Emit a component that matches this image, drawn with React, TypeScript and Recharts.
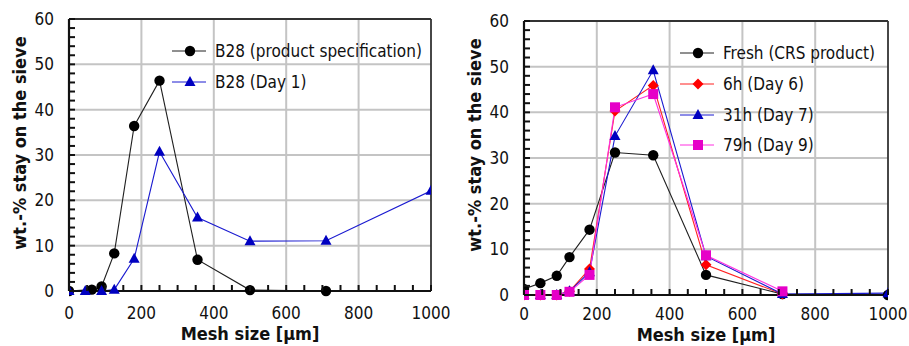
import React from 'react'
import { LineChart, Line, XAxis, YAxis, CartesianGrid, ReferenceLine, Legend } from 'recharts'

const FONT = '"DejaVu Sans Condensed", "DejaVu Sans", sans-serif'

// axis ticks: labelled majors, inward minor marks
const xTicks = [0, 200, 400, 600, 800, 1000]
const yTicks = [0, 10, 20, 30, 40, 50, 60]
const xMinorTicks = Array.from({ length: 21 }, (_, i) => i * 50)
const yMinorTicks = Array.from({ length: 31 }, (_, i) => i * 2)

// left panel: B28
const specMesh = [0, 63, 90, 125, 180, 250, 355, 500, 710]
const specValues = [0, 0.3, 1.0, 8.3, 36.4, 46.4, 6.9, 0.2, 0]
const day1Mesh = [0, 45, 90, 125, 180, 250, 355, 500, 710, 1000]
const day1Values = [0, 0, 0, 0.3, 7.1, 30.7, 16.2, 11.0, 11.1, 22.1]

// right panel: CRS product
const crsMesh = [0, 45, 90, 125, 180, 250, 355, 500, 710, 1000]
const freshValues = [1.3, 2.6, 4.2, 8.3, 14.3, 31.2, 30.6, 4.4, 0.2, 0]
const h6Values = [0, 0, 0, 0.8, 5.7, 40.3, 45.9, 6.6, 0.2]
const h31Values = [0, 0, 0, 0.8, 5.0, 34.8, 49.2, 8.5, 0.2, 0.4]
const h79Values = [0, 0, 0, 0.7, 4.4, 41.1, 44.0, 8.7, 0.8]

type Shape = 'circle' | 'triangle' | 'diamond' | 'square'

interface Series {
  name: string
  mesh: number[]
  values: number[]
  color: string
  line: string
  shape: Shape
}

const toPoints = (mesh: number[], values: number[]) =>
  values.map((v, i) => ({ x: mesh[i], y: v }))

const leftSeries: Series[] = [
  { name: 'B28 (product specification)', mesh: specMesh, values: specValues, color: '#000000', line: '#202020', shape: 'circle' },
  { name: 'B28 (Day 1)', mesh: day1Mesh, values: day1Values, color: '#0000c0', line: '#1a1ad0', shape: 'triangle' },
]

const rightSeries: Series[] = [
  { name: 'Fresh (CRS product)', mesh: crsMesh, values: freshValues, color: '#000000', line: '#202020', shape: 'circle' },
  { name: '6h (Day 6)', mesh: crsMesh, values: h6Values, color: '#ff0000', line: '#ff2020', shape: 'diamond' },
  { name: '31h (Day 7)', mesh: crsMesh, values: h31Values, color: '#0000c0', line: '#1a1ad0', shape: 'triangle' },
  { name: '79h (Day 9)', mesh: crsMesh, values: h79Values, color: '#e600c8', line: '#ff30e0', shape: 'square' },
]

function Marker({ cx, cy, shape, color }: { cx: number; cy: number; shape: Shape; color: string }) {
  if (shape === 'circle') return <circle cx={cx} cy={cy} r={5.2} fill={color} />
  if (shape === 'triangle')
    return <polygon points={`${cx},${cy - 6} ${cx + 5.5},${cy + 4} ${cx - 5.5},${cy + 4}`} fill={color} />
  if (shape === 'diamond')
    return <polygon points={`${cx},${cy - 5.5} ${cx + 5.5},${cy} ${cx},${cy + 5.5} ${cx - 5.5},${cy}`} fill={color} />
  return <rect x={cx - 5} y={cy - 5} width={10} height={10} fill={color} />
}

function LegendBox({ series }: { series: Series[] }) {
  return (
    <div style={{ fontFamily: FONT, fontSize: 17, color: '#111' }}>
      {series.map(s => (
        <div key={s.name} style={{ display: 'flex', alignItems: 'center', height: 30.7 }}>
          <svg width={38} height={14} style={{ marginRight: 5 }}>
            <line x1={0} y1={7} x2={34} y2={7} stroke={s.line} strokeWidth={1} />
            <Marker cx={18} cy={7} shape={s.shape} color={s.color} />
          </svg>
          <span style={{ whiteSpace: 'nowrap' }}>{s.name}</span>
        </div>
      ))}
    </div>
  )
}

const labelStyle = { fontFamily: FONT, fontSize: 17, fill: '#111' }

function XTick({ x, y, payload, gap }: any) {
  const v = payload.value
  return (
    <g>
      <line x1={x} y1={y} x2={x} y2={y - 6} stroke="#111" strokeWidth={2} />
      {xTicks.includes(v) && (
        <text x={x} y={y + gap} textAnchor="middle" dominantBaseline="central" style={labelStyle}>
          {v}
        </text>
      )}
    </g>
  )
}

function YTick({ x, y, payload }: any) {
  const v = payload.value
  return (
    <g>
      <line x1={x} y1={y} x2={x + 6} y2={y} stroke="#111" strokeWidth={2} />
      {yTicks.includes(v) && (
        <text x={x - 15} y={y} textAnchor="end" dominantBaseline="central" style={labelStyle}>
          {v}
        </text>
      )}
    </g>
  )
}

interface PanelProps {
  series: Series[]
  width: number
  margin: { top: number; right: number; left: number; bottom: number }
  xAxisHeight: number
  tickGap: number
  titleBaseline: number
  legendPos: { left: number; top: number }
  titleShift: number
}

function Panel({ series, width, margin, xAxisHeight, tickGap, titleBaseline, legendPos, titleShift }: PanelProps) {
  return (
    <LineChart width={width} height={346} margin={margin}>
      <CartesianGrid
        stroke="#c4c4c4"
        strokeWidth={2}
        verticalValues={xTicks.slice(1, -1)}
        horizontalValues={yTicks.slice(1, -1)}
      />
      <ReferenceLine y={60} stroke="#333" strokeWidth={1.8} />
      <ReferenceLine x={1000} stroke="#333" strokeWidth={1.8} />
      <XAxis
        type="number"
        dataKey="x"
        domain={[0, 1000]}
        ticks={xMinorTicks}
        interval={0}
        allowDataOverflow
        height={xAxisHeight}
        tick={(p: any) => <XTick {...p} gap={tickGap} />}
        tickLine={false}
        tickSize={0}
        tickMargin={0}
        axisLine={{ stroke: '#111', strokeWidth: 2.2 }}
        label={{
          content: ({ viewBox }: any) => (
            <text
              x={viewBox.x + viewBox.width / 2}
              y={titleBaseline}
              textAnchor="middle"
              style={{ fontFamily: FONT, fontSize: 18, fontWeight: 'bold', fill: '#111' }}
            >
              Mesh size [µm]
            </text>
          ),
        }}
      />
      <YAxis
        type="number"
        domain={[0, 60]}
        ticks={yMinorTicks}
        interval={0}
        width={69}
        tick={(p: any) => <YTick {...p} />}
        tickLine={false}
        tickSize={0}
        tickMargin={0}
        axisLine={{ stroke: '#111', strokeWidth: 2.2 }}
        label={{
          content: ({ viewBox }: any) => {
            const cx = 19
            const cy = viewBox.y + viewBox.height / 2 - titleShift
            return (
              <text
                x={cx}
                y={cy}
                textAnchor="middle"
                dominantBaseline="central"
                transform={`rotate(-90 ${cx} ${cy})`}
                style={{ fontFamily: FONT, fontSize: 18, fontWeight: 'bold', fill: '#111' }}
              >
                wt.-% stay on the sieve
              </text>
            )
          },
        }}
      />
      <Legend
        layout="vertical"
        align="center"
        verticalAlign="middle"
        wrapperStyle={{ left: legendPos.left, top: legendPos.top, width: 'auto' }}
        content={() => <LegendBox series={series} />}
      />
      {series.map(s => (
        <Line
          key={s.name}
          data={toPoints(s.mesh, s.values)}
          dataKey="y"
          name={s.name}
          stroke={s.line}
          strokeWidth={1.1}
          isAnimationActive={false}
          dot={(p: any) => (
            <Marker key={`${s.name}-${p.index}`} cx={p.cx} cy={p.cy} shape={s.shape} color={s.color} />
          )}
          activeDot={false}
        />
      ))}
    </LineChart>
  )
}

export default function App() {
  return (
    <div style={{ position: 'absolute', left: 0, top: 0, width: 909, height: 346, background: '#fff' }}>
      <div style={{ position: 'absolute', left: 0, top: 0 }}>
        <Panel
          series={leftSeries}
          width={450}
          margin={{ top: 19, right: 19, left: 0, bottom: 0 }}
          xAxisHeight={55}
          tickGap={22}
          titleBaseline={340}
          legendPos={{ left: 172, top: 36 }}
          titleShift={12}
        />
      </div>
      <div style={{ position: 'absolute', left: 455, top: 0 }}>
        <Panel
          series={rightSeries}
          width={454}
          margin={{ top: 21, right: 21, left: 0, bottom: 0 }}
          xAxisHeight={51}
          tickGap={19}
          titleBaseline={341}
          legendPos={{ left: 225, top: 38 }}
          titleShift={13}
        />
      </div>
    </div>
  )
}
